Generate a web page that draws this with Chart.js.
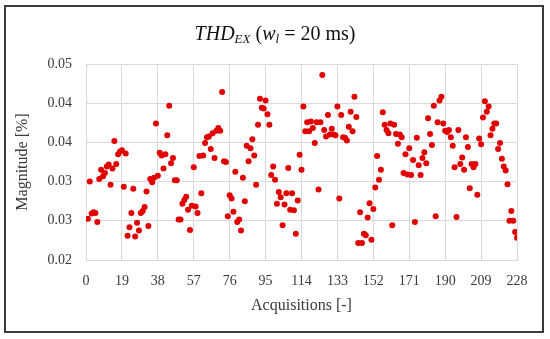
<!DOCTYPE html>
<html>
<head>
<meta charset="utf-8">
<script src="https://cdn.jsdelivr.net/npm/chart.js@4.4.1/dist/chart.umd.min.js"></script>
<style>
  html, body { margin: 0; padding: 0; background: #ffffff; }
  #wrap { position: relative; width: 550px; height: 339px; overflow: hidden; }
  #frame { position: absolute; left: 4px; top: 5px; width: 536px; height: 324px; border: 2px solid #3c3c3c; pointer-events: none; }
  #title { position: absolute; left: 0; width: 550px; top: 21px; text-align: center; font-family: "Liberation Serif", serif; font-size: 20px; color: #111; line-height: 24px; white-space: nowrap; }
  #title sub { font-size: 13px; vertical-align: -3px; line-height: 0; }
  canvas { position: absolute; left: 0; top: 0; }
</style>
</head>
<body>
<div id="wrap">
  <canvas id="c" width="550" height="339"></canvas>
  <div id="title"><i>THD</i><sub><i>EX</i></sub> (<i>w</i><sub><i>l</i></sub> = 20 ms)</div>
  <div id="frame"></div>
</div>
<script>
// Acquisition values (THD_EX magnitude, %), acquisitions 1..228
const thdValues = [
  0.0263,0.0320,0.0271,0.0273,0.0272,0.0258,0.0324,0.0338,0.0328,0.0333,
  0.0343,0.0346,0.0315,0.0340,0.0382,0.0347,0.0362,0.0366,0.0368,0.0312,
  0.0363,0.0237,0.0250,0.0272,0.0309,0.0236,0.0257,0.0245,0.0272,0.0275,
  0.0281,
  0.0305,0.0252,0.0324,0.0319,0.0326,0.0409,0.0329,0.0364,0.0360,0.0340,
  0.0362,0.0391,0.0436,0.0348,0.0356,0.0322,0.0322,0.0262,0.0262,0.0286,
  0.0292,0.0297,0.0277,0.0246,0.0283,0.0342,0.0282,0.0272,0.0359,0.0302,
  0.0360,0.0379,0.0388,
  0.0389,0.0370,0.0394,0.0356,0.0398,0.0402,0.0398,0.0457,0.0351,0.0350,
  0.0267,0.0299,0.0294,0.0274,0.0335,0.0258,0.0262,0.0245,0.0326,0.0290,
  0.0375,0.0351,0.0371,0.0385,0.0360,0.0315,0.0407,0.0447,0.0433,0.0432,
  0.0444,0.0423,0.0407,
  0.0330,0.0343,0.0323,0.0286,0.0304,0.0296,0.0253,0.0285,0.0302,0.0341,
  0.0277,0.0302,0.0276,0.0240,0.0291,0.0361,0.0338,0.0435,0.0397,0.0411,
  0.0397,0.0412,0.0402,0.0379,0.0411,0.0308,0.0411,0.0483,0.0399,0.0389,
  0.0422,
  0.0392,0.0401,0.0392,0.0391,0.0435,0.0294,0.0422,0.0388,0.0387,0.0383,
  0.0404,0.0427,0.0397,0.0450,0.0419,0.0226,0.0273,0.0226,0.0240,0.0238,
  0.0265,0.0287,0.0231,0.0278,0.0311,0.0359,0.0323,0.0338,0.0426,0.0407,
  0.0399,0.0394,0.0409,0.0253,
  0.0407,0.0393,0.0378,0.0392,0.0388,0.0333,0.0362,0.0331,0.0371,0.0330,
  0.0353,0.0258,0.0387,0.0345,0.0330,0.0356,0.0365,0.0348,0.0417,0.0393,
  0.0376,0.0436,0.0267,0.0411,0.0444,0.0450,0.0409,0.0398,0.0396,0.0399,
  0.0388,0.0375,0.0342,0.0266,
  0.0399,0.0347,0.0357,0.0338,0.0388,0.0373,0.0310,0.0347,0.0342,0.0347,
  0.0300,0.0386,0.0377,0.0418,0.0443,0.0427,0.0435,0.0391,0.0401,0.0409,
  0.0409,0.0370,0.0379,0.0355,0.0343,0.0337,0.0316,0.0260,0.0275,0.0260,
  0.0243,0.0234
];
const firstAcquisition = 1;
const xTicks = [0,19,38,57,76,95,114,133,152,171,190,209,228];
const yTicks = [0.02,0.026,0.032,0.038,0.044,0.05];

const points = thdValues.map((v, i) => ({ x: firstAcquisition + i, y: v }));

const serif = '"Liberation Serif", "Times New Roman", serif';
const gridColor = '#d9d9d9';
const textColor = '#3a3a3a';

new Chart(document.getElementById('c'), {
  type: 'scatter',
  data: {
    datasets: [{
      data: points,
      showLine: false,
      pointRadius: 3,
      pointHoverRadius: 3,
      pointBorderWidth: 0,
      backgroundColor: '#e10000',
      borderColor: '#e10000'
    }]
  },
  options: {
    responsive: false,
    animation: false,
    events: [],
    layout: { padding: { left: 0, right: 33, top: 64, bottom: 0 } },
    plugins: { legend: { display: false }, title: { display: false }, tooltip: { enabled: false } },
    scales: {
      x: {
        type: 'linear',
        min: xTicks[0],
        max: xTicks[xTicks.length - 1],
        afterBuildTicks: (s) => { s.ticks = xTicks.map(v => ({ value: v })); },
        afterFit: (s) => { s.height = 79; },
        grid: { color: gridColor, lineWidth: 1, drawTicks: false },
        border: { display: true, color: gridColor, width: 1 },
        ticks: { padding: 13, color: textColor, font: { family: serif, size: 14 }, maxRotation: 0, autoSkip: false,
                 callback: (v) => String(v) },
        title: { display: true, text: 'Acquisitions [-]', color: textColor, font: { family: serif, size: 16 },
                 padding: { top: 0, bottom: 24 } }
      },
      y: {
        type: 'linear',
        min: yTicks[0],
        max: yTicks[yTicks.length - 1],
        afterBuildTicks: (s) => { s.ticks = yTicks.map(v => ({ value: v })); },
        afterFit: (s) => { s.width = 86; },
        grid: { color: gridColor, lineWidth: 1, drawTicks: false },
        border: { display: true, color: gridColor, width: 1 },
        ticks: { padding: 14, color: textColor, font: { family: serif, size: 14 },
                 callback: (v) => Number(v).toFixed(2) },
        title: { display: true, text: 'Magnitude [%]', color: textColor, font: { family: serif, size: 16 },
                 padding: { top: 13, bottom: 0 } }
      }
    }
  }
});
</script>
</body>
</html>
